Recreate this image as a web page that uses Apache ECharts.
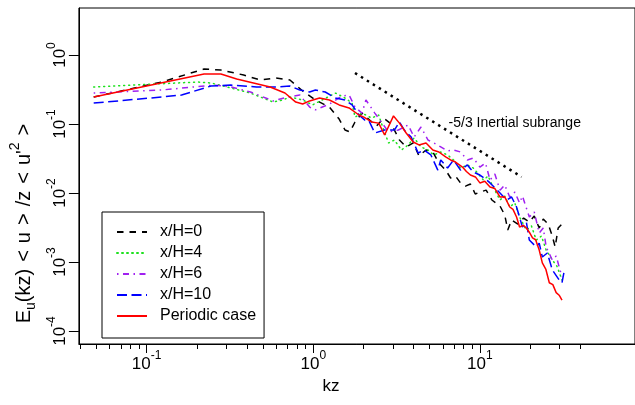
<!DOCTYPE html>
<html><head><meta charset="utf-8">
<script src="https://cdn.jsdelivr.net/npm/echarts@6/dist/echarts.min.js"></script>
<style>html,body{margin:0;padding:0;background:#fff}#c{width:635px;height:405px}</style>
</head><body><div id="c"></div>
<script>
// ---- data (kz, E) ----
const seriesNames = ['x/H=0', 'x/H=4', 'x/H=6', 'x/H=10', 'Periodic case'];
const kzMajorTicks = [0.1, 1, 10];
const kzMinorTicks = [0.04,0.05,0.06,0.07,0.08,0.09,0.2,0.3,0.4,0.5,0.6,0.7,0.8,0.9,2,3,4,5,6,7,8,9,20,30,40];
const eTicks = [1e-4, 1e-3, 1e-2, 1e-1, 1];

const xH0 = [[0.0481,0.246],[0.123,0.406],[0.221,0.627],[0.279,0.606],[0.382,0.513],[0.481,0.434],[0.598,0.464],[0.724,0.434],[0.864,0.301],[1.03,0.223],[1.25,0.176],[1.43,0.118],[1.55,0.0818],[1.66,0.0766],[1.78,0.107],[1.96,0.144],[2.18,0.114],[2.40,0.0935],[2.64,0.122],[2.94,0.100],[3.29,0.0586],[3.61,0.0465],[3.98,0.0531],[4.31,0.0344],[4.75,0.0420],[5.22,0.0393],[5.67,0.0272],[6.23,0.0215],[6.67,0.0165],[7.14,0.0176],[7.65,0.0140],[8.19,0.0126],[8.77,0.0135],[9.38,0.00968],[10.0,0.0103],[10.9,0.0110],[11.8,0.00792],[13.2,0.00648],[14.1,0.0048],[14.7,0.00291],[15.5,0.00406],[16.9,0.00355],[18.3,0.00434],[19.8,0.00380],[21.2,0.00464],[22.7,0.00311],[24.0,0.0042],[25.7,0.00355],[27.2,0.00238],[28.3,0.00165],[29.5,0.00311],[31.1,0.00355]];

const xH4 = [[0.0481,0.344],[0.201,0.406],[0.243,0.393],[0.320,0.333],[0.420,0.281],[0.574,0.208],[0.658,0.223],[0.724,0.246],[0.864,0.223],[0.990,0.189],[1.13,0.223],[1.36,0.281],[1.55,0.238],[1.71,0.201],[1.78,0.126],[1.96,0.144],[2.24,0.122],[2.47,0.135],[2.61,0.0905],[2.83,0.0531],[3.07,0.0586],[3.38,0.0420],[3.71,0.0497],[4.03,0.0627],[4.43,0.0465],[4.88,0.0420],[5.29,0.0356],[5.82,0.0393],[6.40,0.0356],[6.95,0.0301],[7.65,0.0230],[8.41,0.0255],[9.13,0.0230],[10.5,0.0154],[11.2,0.0176],[12.0,0.0122],[13.2,0.00792],[14.1,0.00905],[15.1,0.00627],[16.2,0.00716],[17.3,0.00449],[19.0,0.00291],[20.4,0.00332],[21.8,0.00208],[23.4,0.00238],[25.0,0.00149],[27.2,0.00107],[29.0,0.00087],[31.1,0.00055]];

const xH6 = [[0.0481,0.281],[0.123,0.311],[0.254,0.367],[0.320,0.344],[0.420,0.291],[0.574,0.216],[0.705,0.246],[0.830,0.263],[0.951,0.176],[1.03,0.160],[1.25,0.195],[1.49,0.255],[1.64,0.263],[1.78,0.176],[1.96,0.144],[2.07,0.223],[2.34,0.144],[2.83,0.0766],[3.24,0.0818],[3.71,0.0967],[4.03,0.0648],[4.43,0.0905],[4.88,0.0586],[5.29,0.0531],[5.82,0.0465],[6.40,0.0406],[6.95,0.0420],[7.65,0.0393],[8.41,0.0301],[9.13,0.0322],[10.0,0.0238],[10.8,0.0272],[11.5,0.0154],[12.3,0.0188],[13.2,0.0110],[14.1,0.0131],[15.1,0.00875],[16.2,0.0103],[17.3,0.00716],[18.0,0.00905],[19.8,0.00449],[21.2,0.0053],[22.7,0.00263],[24.0,0.00311],[25.0,0.00165],[27.2,0.00107],[28.7,0.00122],[29.9,0.00085],[31.1,0.00061]];

const xH10 = [[0.0481,0.201],[0.123,0.246],[0.162,0.263],[0.243,0.355],[0.320,0.367],[0.456,0.344],[0.598,0.344],[0.724,0.355],[0.830,0.311],[0.951,0.291],[1.03,0.311],[1.18,0.291],[1.36,0.238],[1.55,0.223],[1.71,0.189],[1.88,0.135],[2.04,0.114],[2.15,0.114],[2.34,0.0741],[2.68,0.0818],[3.07,0.0818],[3.29,0.107],[3.52,0.0818],[3.87,0.0648],[4.26,0.0380],[4.62,0.0420],[5.08,0.0356],[5.59,0.0215],[5.82,0.0301],[6.40,0.0230],[6.95,0.0301],[7.65,0.0215],[8.41,0.0255],[9.13,0.0201],[10.0,0.0182],[11.0,0.0154],[11.5,0.0140],[13.2,0.0100],[14.5,0.00792],[15.5,0.00875],[16.6,0.00627],[18.0,0.00321],[19.0,0.00380],[19.8,0.00208],[21.8,0.00165],[22.7,0.00188],[23.7,0.00118],[25.4,0.00135],[27.2,0.00077],[29.9,0.00055],[31.1,0.00050],[32.0,0.00072]];

const periodic = [[0.0481,0.246],[0.221,0.531],[0.279,0.531],[0.347,0.449],[0.551,0.344],[0.676,0.281],[0.785,0.208],[0.864,0.195],[0.951,0.216],[1.09,0.238],[1.25,0.223],[1.43,0.189],[1.64,0.171],[1.88,0.135],[2.01,0.126],[2.24,0.107],[2.47,0.103],[2.68,0.0693],[3.03,0.131],[3.29,0.103],[3.61,0.0741],[3.98,0.0548],[4.31,0.0497],[4.75,0.0531],[5.22,0.0420],[5.67,0.0393],[6.23,0.0333],[6.67,0.0301],[7.14,0.0281],[7.86,0.0238],[8.3,0.0205],[8.77,0.0182],[9.4,0.0171],[10.0,0.0140],[10.7,0.0148],[11.5,0.0122],[12.3,0.0116],[13.2,0.00875],[14.1,0.0088],[15.1,0.00627],[15.8,0.0058],[16.6,0.00449],[17.3,0.00321],[18.2,0.0034],[19.0,0.00311],[19.8,0.0027],[20.7,0.00223],[21.6,0.0021],[22.7,0.00149],[23.7,0.00097],[24.9,0.00078],[26.1,0.00050],[27.4,0.00047],[28.7,0.00036],[29.9,0.00033],[31.1,0.00028]];

const slopeLine = [[1.78, 0.548], [17.8, 0.0171]];
const slopeText = '-5/3 Inertial subrange';
const slopeTextAt = [6.49, 0.1034];

// ---- chart ----
const FONT = 'Liberation Sans, Arial, Helvetica, sans-serif';
const supRich = {
  b: { fontSize: 17, fontFamily: FONT, color: '#000', padding: [6, 0, 0, 0] },
  s: { fontSize: 12, fontFamily: FONT, color: '#000', verticalAlign: 'top' }
};
const powFmt = v => '{b|10}{s|' + Math.round(Math.log10(v)) + '}';

const colors = ['#000000', '#1ee01e', '#a020f0', '#0000ff', '#ff0000'];
const dashes = [[6.5, 6], [1, 4], [1.5, 4.5, 6, 4.5], [10, 4.5], 'solid'];
const caps = ['butt', 'round', 'butt', 'butt', 'butt'];
const datasets = [xH0, xH4, xH6, xH10, periodic];

const G = 7; // spacing around relation symbols in the y title
const relStyle = { fontSize: 20, fontFamily: FONT, color: '#000', padding: [6, G, 0, G] };

const xMin = 0.0392, xMax = 85.3;
const chart = echarts.init(document.getElementById('c'), null, { renderer: 'canvas' });
chart.setOption({
  animation: false,
  backgroundColor: '#fff',
  grid: { left: 73, top: 8, right: -2, bottom: 61, show: true, borderColor: '#000', borderWidth: 1, backgroundColor: 'transparent' },
  legend: {
    data: seriesNames, orient: 'vertical', left: 102, top: 212,
    itemWidth: 30, itemHeight: 14, itemGap: 5,
    padding: [12, 8, 14, 14], borderColor: '#000', borderWidth: 1, backgroundColor: '#fff',
    itemStyle: { opacity: 0, borderWidth: 0 },
    textStyle: { fontSize: 16, fontFamily: FONT, color: '#000', padding: [0, 0, 0, 8] }
  },
  xAxis: [{
    type: 'log', logBase: 10, min: xMin, max: xMax,
    axisLine: { show: true, lineStyle: { color: '#000', width: 1 } },
    axisTick: { show: true, customValues: kzMajorTicks, length: 9, lineStyle: { color: '#000' } },
    axisLabel: { show: true, customValues: kzMajorTicks, formatter: powFmt, rich: supRich, margin: 6 },
    splitLine: { show: false },
    name: 'kz', nameLocation: 'middle', nameGap: 30,
    nameTextStyle: { fontSize: 17, fontFamily: FONT, color: '#000', padding: [0, 52, 0, 0] }
  }, {
    type: 'log', logBase: 10, min: xMin, max: xMax, position: 'bottom', offset: 0,
    axisLine: { show: false },
    axisTick: { show: true, customValues: kzMinorTicks, length: 5, lineStyle: { color: '#000' } },
    axisLabel: { show: false }, splitLine: { show: false }
  }],
  yAxis: {
    type: 'log', logBase: 10, min: 6.48e-5, max: 4.8,
    axisLine: { show: true, lineStyle: { color: '#000', width: 1 } },
    axisTick: { show: true, customValues: eTicks, length: 10, lineStyle: { color: '#000' } },
    axisLabel: { show: true, customValues: eTicks, formatter: powFmt, rich: supRich, rotate: 90, margin: 10 },
    splitLine: { show: false },
    name: "{n|E}{d|u}{n|(kz)}{r|<}{n|u}{r|>}{n|/z}{r|<}{n|u'}{s|2}{r|>}",
    nameLocation: 'middle', nameGap: 42, nameRotate: 90,
    nameTextStyle: { padding: [0, 88, 0, 0], rich: {
      n: { fontSize: 20, fontFamily: FONT, color: '#000', padding: [6, 0, 0, 0] },
      r: relStyle,
      d: { fontSize: 14, fontFamily: FONT, color: '#000', verticalAlign: 'bottom', padding: [0, 0, -4, 0] },
      s: { fontSize: 14, fontFamily: FONT, color: '#000', verticalAlign: 'top' }
    } }
  },
  series: datasets.map((d, i) => ({
    name: seriesNames[i], type: 'line', data: d, symbol: 'none', showSymbol: false,
    lineStyle: { color: colors[i], width: 1.5, type: dashes[i], cap: caps[i] },
    itemStyle: { color: colors[i] }, z: 3 + i
  })).concat([{
    name: 'slope', type: 'line', data: slopeLine, symbol: 'none',
    lineStyle: { color: '#000', width: 2.5, type: [2.5, 4.5] }, z: 2
  }, {
    name: 'slopeLabel', type: 'scatter', data: [slopeTextAt], symbolSize: 0,
    label: { show: true, position: 'right', distance: 0, formatter: slopeText, fontSize: 14, fontFamily: FONT, color: '#000', opacity: 1 }
  }])
});
</script></body></html>
